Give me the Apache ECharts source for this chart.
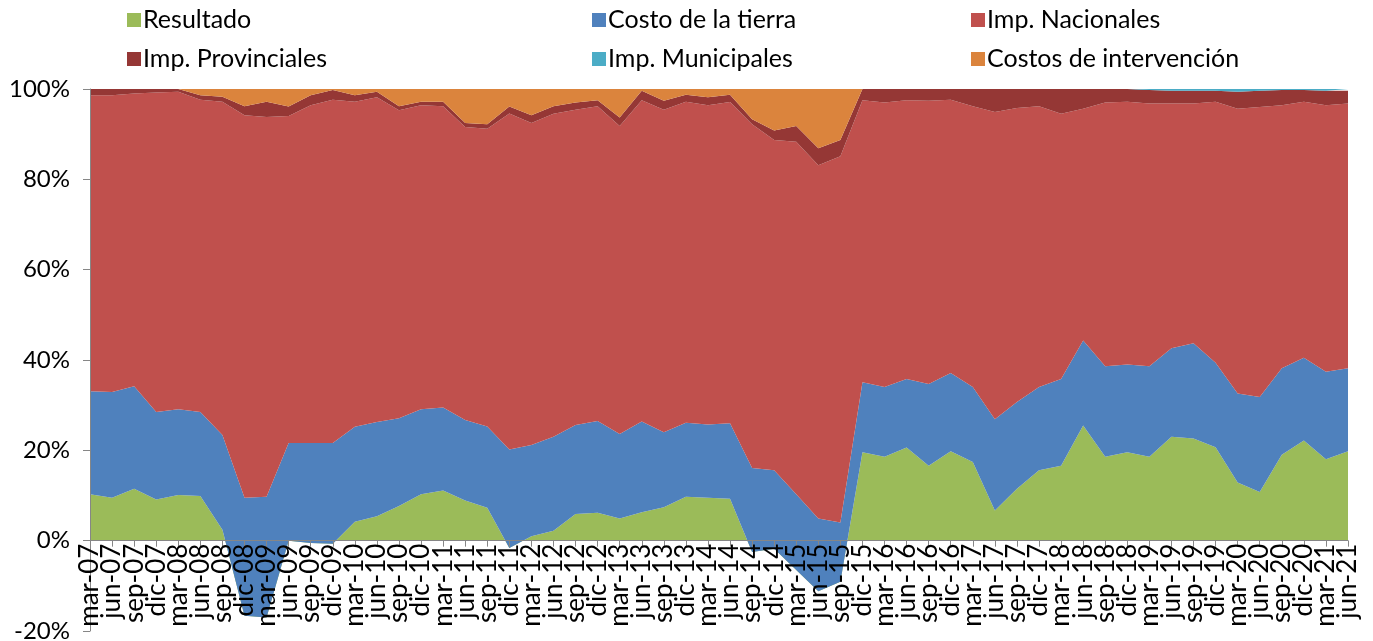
<!DOCTYPE html>
<html>
<head>
<meta charset="utf-8">
<script src="https://cdn.jsdelivr.net/npm/echarts@6/dist/echarts.min.js"></script>
<style>
  html, body { margin: 0; padding: 0; background: #fff; }
  #chart { width: 1373px; height: 641px; }
</style>
</head>
<body>
<div id="chart"></div>
<script>
// trimestres mar-07 .. jun-21
const quarters = [
  'mar-07', 'jun-07', 'sep-07', 'dic-07', 'mar-08', 'jun-08', 'sep-08', 'dic-08',
  'mar-09', 'jun-09', 'sep-09', 'dic-09', 'mar-10', 'jun-10', 'sep-10', 'dic-10',
  'mar-11', 'jun-11', 'sep-11', 'dic-11', 'mar-12', 'jun-12', 'sep-12', 'dic-12',
  'mar-13', 'jun-13', 'sep-13', 'dic-13', 'mar-14', 'jun-14', 'sep-14', 'dic-14',
  'mar-15', 'jun-15', 'sep-15', 'dic-15', 'mar-16', 'jun-16', 'sep-16', 'dic-16',
  'mar-17', 'jun-17', 'sep-17', 'dic-17', 'mar-18', 'jun-18', 'sep-18', 'dic-18',
  'mar-19', 'jun-19', 'sep-19', 'dic-19', 'mar-20', 'jun-20', 'sep-20', 'dic-20',
  'mar-21', 'jun-21'
]

const resultado = [
  10.3, 9.5, 11.5, 9.1, 10.1, 9.9, 2.4, -16.6,
  -17.0, 0.0, -0.5, -0.7, 4.2, 5.4, 7.7, 10.3,
  11.1, 8.9, 7.3, -1.6, 1.0, 2.2, 5.9, 6.2,
  4.9, 6.3, 7.4, 9.7, 9.5, 9.3, -2.5, -1.8,
  -6.5, -11.2, -9.1, 19.6, 18.6, 20.6, 16.6, 19.8,
  17.4, 6.7, 11.5, 15.6, 16.6, 25.5, 18.6, 19.6,
  18.6, 23.0, 22.6, 20.7, 12.9, 10.8, 19.0, 22.2,
  18.0, 19.8
]
const costoTierra = [
  22.8, 23.4, 22.7, 19.4, 19.0, 18.6, 21.0, 26.1,
  26.7, 21.6, 22.1, 22.3, 21.0, 20.9, 19.4, 18.8,
  18.4, 17.8, 18.0, 21.8, 20.2, 20.8, 19.7, 20.3,
  18.7, 20.1, 16.6, 16.4, 16.2, 16.7, 18.6, 17.4,
  16.8, 16.1, 13.1, 15.5, 15.4, 15.2, 18.1, 17.3,
  16.6, 20.2, 19.2, 18.4, 19.2, 18.8, 20.0, 19.4,
  20.0, 19.6, 21.1, 18.7, 19.7, 21.0, 19.2, 18.3,
  19.4, 18.4
]
const impNacionales = [
  65.5, 65.7, 64.8, 70.7, 70.3, 69.1, 73.8, 84.7,
  84.1, 72.4, 74.8, 76.0, 72.0, 71.9, 68.2, 67.3,
  66.7, 64.9, 65.9, 74.4, 71.3, 71.5, 69.8, 69.7,
  68.2, 71.1, 71.4, 71.1, 70.7, 71.1, 76.1, 73.1,
  78.0, 78.2, 81.1, 62.4, 63.0, 61.7, 62.7, 60.5,
  62.2, 68.0, 65.1, 62.2, 58.7, 51.3, 58.4, 58.2,
  58.2, 54.2, 53.1, 57.8, 63.0, 64.2, 58.2, 56.7,
  59.0, 58.6
]
const impProvinciales = [
  1.4, 1.4, 1.0, 0.8, 0.6, 1.0, 1.1, 2.0,
  3.4, 2.1, 2.2, 2.2, 1.4, 1.2, 0.9, 0.8,
  1.0, 0.9, 1.0, 1.5, 1.7, 1.7, 1.6, 1.3,
  1.9, 2.1, 2.0, 1.5, 1.8, 1.6, 1.1, 2.1,
  3.5, 3.8, 3.6, 2.5, 3.0, 2.5, 2.6, 2.4,
  3.8, 5.1, 4.2, 3.8, 5.5, 4.4, 3.0, 2.8,
  3.0, 2.8, 2.8, 2.4, 3.8, 3.6, 3.4, 2.6,
  3.2, 2.8
]
const impMunicipales = [
  0, 0, 0, 0, 0, 0, 0, 0,
  0, 0, 0, 0, 0, 0, 0, 0,
  0, 0, 0, 0, 0, 0, 0, 0,
  0, 0, 0, 0, 0, 0, 0, 0,
  0, 0, 0, 0, 0, 0, 0, 0,
  0, 0, 0, 0, 0, 0, 0, 0,
  0.2, 0.4, 0.4, 0.4, 0.6, 0.4, 0.2, 0.2,
  0.4, 0.4
]
const costosIntervencion = [
  0, 0, 0, 0, 0, 1.4, 1.7, 3.8,
  2.8, 3.9, 1.4, 0.2, 1.4, 0.6, 3.8, 2.8,
  2.8, 7.5, 7.8, 3.9, 5.8, 3.8, 3.0, 2.5,
  6.3, 0.4, 2.6, 1.3, 1.8, 1.3, 6.7, 9.2,
  8.2, 13.1, 11.3, 0, 0, 0, 0, 0,
  0, 0, 0, 0, 0, 0, 0, 0,
  0, 0, 0, 0, 0, 0, 0, 0,
  0, 0
]

const yTicks = { min: -20, max: 100, step: 20 }

const chart = echarts.init(document.getElementById('chart'))

const font = 'Lato, "Open Sans", sans-serif'
const axisColor = '#868686'
const gridTop = 89
const gridBottom = 10
const gridHeight = 641 - gridTop - gridBottom
// la linea del eje x va en el 0%, no abajo del todo
const zeroOffset = -gridHeight * (0 - yTicks.min) / (yTicks.max - yTicks.min)

function areaSeries(name, data, color) {
  return {
    name: name,
    type: 'line',
    stack: 'total',
    stackStrategy: 'all',
    data: data,
    symbol: 'none',
    lineStyle: { width: 0 },
    areaStyle: { color: color, opacity: 1 },
    itemStyle: { color: color },
    animation: false
  }
}

function legendColumn(left, names) {
  return {
    orient: 'vertical',
    left: left,
    top: 1,
    icon: 'rect',
    itemWidth: 14,
    itemHeight: 14,
    itemGap: 11,
    data: names,
    textStyle: { fontFamily: font, fontSize: 25, color: '#000', lineHeight: 28, padding: [0, 0, 0, -3] }
  }
}

chart.setOption({
  backgroundColor: '#fff',
  legend: [
    legendColumn(122, ['Resultado', 'Imp. Provinciales']),
    legendColumn(587, ['Costo de la tierra', 'Imp. Municipales']),
    legendColumn(966, ['Imp. Nacionales', 'Costos de intervención'])
  ],
  grid: {
    left: 90,
    right: 25,
    top: gridTop,
    bottom: gridBottom,
    containLabel: false,
    outerBoundsMode: 'none'
  },
  xAxis: {
    type: 'category',
    data: quarters,
    boundaryGap: false,
    offset: zeroOffset,
    z: 10,
    axisLine: { onZero: false, lineStyle: { color: axisColor, width: 1 } },
    axisTick: { show: true, length: 6, lineStyle: { color: axisColor } },
    axisLabel: {
      interval: 0,
      rotate: 90,
      margin: 3,
      fontFamily: font,
      fontSize: 26,
      color: '#000'
    },
    splitLine: { show: false }
  },
  yAxis: {
    type: 'value',
    min: yTicks.min,
    max: yTicks.max,
    interval: yTicks.step,
    z: 10,
    axisLine: { show: true, lineStyle: { color: axisColor, width: 1 } },
    axisTick: { show: true, length: 7, lineStyle: { color: axisColor } },
    axisLabel: {
      formatter: '{value}%',
      margin: 20,
      fontFamily: font,
      fontSize: 24,
      color: '#000'
    },
    splitLine: { show: false }
  },
  series: [
    areaSeries('Resultado', resultado, '#9BBB59'),
    areaSeries('Costo de la tierra', costoTierra, '#4F81BD'),
    areaSeries('Imp. Nacionales', impNacionales, '#C0504D'),
    areaSeries('Imp. Provinciales', impProvinciales, '#953735'),
    areaSeries('Imp. Municipales', impMunicipales, '#4BACC6'),
    areaSeries('Costos de intervención', costosIntervencion, '#DB843D')
  ]
})
</script>
</body>
</html>
